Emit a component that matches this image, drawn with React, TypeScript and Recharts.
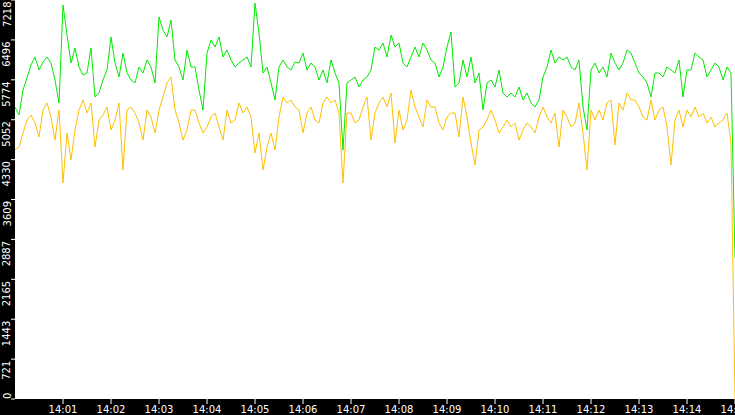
import React from "react";
import { LineChart, Line, XAxis, YAxis, CartesianGrid } from "recharts";

// Sample interval: 5 seconds, starting 14:00:00
const green: number[] = [
  5282,5138,5590,5807,6042,6187,5952,6096,6187,6078,5771,5355,7128,6585,6078,6350,6006,5861,5897,6350,5463,5536,5771,
  5952,6549,6078,5825,6259,5897,5771,5717,6006,5897,6133,6006,5717,6910,6675,6549,6856,6133,6006,5771,6313,6006,
  6006,5590,5228,6259,6494,6368,6549,6187,6313,6133,6006,6078,6133,6187,6006,7164,6621,5897,6006,5717,5409,6006,6133,
  6006,5952,6096,6078,6259,5952,6078,6006,5771,5952,5717,6133,5897,5717,4505,5717,5771,5825,5644,5771,5825,5952,
  6368,6313,6440,6187,6585,6368,6440,6078,6006,6187,6368,6187,6440,6313,6133,6078,5825,6006,6368,6639,5644,5717,6133,
  5825,6187,5717,5897,5228,5717,5771,5644,5952,5536,5463,5536,5463,5644,5409,5536,5355,5282,5409,5825,6006,6313,
  6078,6187,6133,6187,6006,5952,6133,5282,4866,5952,6078,5897,6006,5825,6259,6078,5952,6078,6313,6259,6078,5897,5825,
  5717,5463,5897,5897,5825,6006,5952,5897,6133,5463,5952,5952,6259,6187,6133,5825,5952,6078,6006,5771,6006,5897,
  2550,
];

const orange: number[] = [
  4505,4559,4812,5047,5138,4993,4740,5228,5355,5101,4686,5228,3907,4812,4324,4866,5228,5409,5174,5355,4559,5047,5138,
  5282,4866,5047,5355,4143,5228,5282,5174,4993,4686,5228,5101,4812,5228,5463,5717,5825,5228,4993,4686,4866,5228,
  5228,4993,4812,4921,5101,5174,4921,4686,5228,4993,5047,5355,5174,5282,5101,4450,4812,4143,4559,4812,4505,5101,5463,
  5355,5409,5282,5228,4812,5174,5282,5047,4993,5355,5463,5355,5409,5174,3907,5174,5174,4993,5047,5282,5463,4686,
  5174,5355,5463,5282,5536,4631,5228,4866,5047,5590,5282,5101,4921,5409,5282,5282,4993,4866,5101,5174,5174,4740,5463,
  5101,4631,4233,4866,4921,5047,5228,5047,4812,4921,5047,4921,4993,4686,4866,4993,4921,4812,5101,5282,5101,4993,
  5174,4559,5228,5101,4921,4993,5355,4812,4143,5228,5047,5228,5047,5355,5409,4595,5355,5228,5536,5409,5409,5282,5101,
  5047,5409,5047,5228,5282,4921,4233,5047,5228,4921,5228,5101,5282,5101,5174,4993,5101,4921,4993,5047,5174,4631,
  0,
];

const STEP_SECONDS = 5;
const seconds: number[] = green.map((_, i) => i * STEP_SECONDS);

const yTicks: number[] = [0, 721, 1443, 2165, 2887, 3609, 4330, 5052, 5774, 6496, 7218];
const xTicks: number[] = [60, 120, 180, 240, 300, 360, 420, 480, 540, 600, 660, 720, 780, 840, 900];
const xTickLabels: string[] = [
  "14:01", "14:02", "14:03", "14:04", "14:05", "14:06", "14:07", "14:08",
  "14:09", "14:10", "14:11", "14:12", "14:13", "14:14", "14:15",
];

const data = seconds.map((t, i) => ({ t, green: green[i], orange: orange[i] }));

const FONT = "'DejaVu Sans', sans-serif";

const YTick = (props: any) => {
  const { y, payload } = props;
  const isZero = payload.value === 0;
  const ay = isZero ? y : y + 1.5;
  return (
    <text
      x={10.5}
      y={ay}
      transform={`rotate(-90, 10.5, ${ay})`}
      textAnchor={isZero ? "start" : "end"}
      fill="#ffffff"
      fontSize={10}
      fontFamily={FONT}
    >
      {String(payload.value)}
    </text>
  );
};

const XTick = (props: any) => {
  const { x, payload } = props;
  const idx = xTicks.indexOf(payload.value);
  return (
    <text x={x} y={413} textAnchor="middle" fill="#ffffff" fontSize={10} fontFamily={FONT}>
      {idx >= 0 ? xTickLabels[idx] : ""}
    </text>
  );
};

export default function App() {
  return (
    <div style={{ width: 735, height: 415, background: "#000000", overflow: "hidden" }}>
      <style>{"body{margin:0;}"}</style>
      <LineChart width={735} height={415} data={data} margin={{ top: 0, right: 0, bottom: 0, left: 0 }}>
        <CartesianGrid fill="#ffffff" stroke="none" horizontal={false} vertical={false} />
        <XAxis
          dataKey="t"
          type="number"
          domain={[0, 900]}
          ticks={xTicks}
          height={16}
          axisLine={false}
          tickLine={{ stroke: "#ffffff" }}
          tickSize={5}
          tick={<XTick />}
          interval={0}
        />
        <YAxis
          type="number"
          domain={[0, 7218]}
          ticks={yTicks}
          width={15}
          axisLine={false}
          tickLine={{ stroke: "#ffffff" }}
          tickSize={4}
          tick={<YTick />}
          interval={0}
        />
        <Line
          dataKey="orange"
          type="linear"
          stroke="#ffc000"
          strokeWidth={1}
          dot={false}
          activeDot={false}
          isAnimationActive={false}
        />
        <Line
          dataKey="green"
          type="linear"
          stroke="#00ea00"
          strokeWidth={1}
          dot={false}
          activeDot={false}
          isAnimationActive={false}
        />
      </LineChart>
    </div>
  );
}
